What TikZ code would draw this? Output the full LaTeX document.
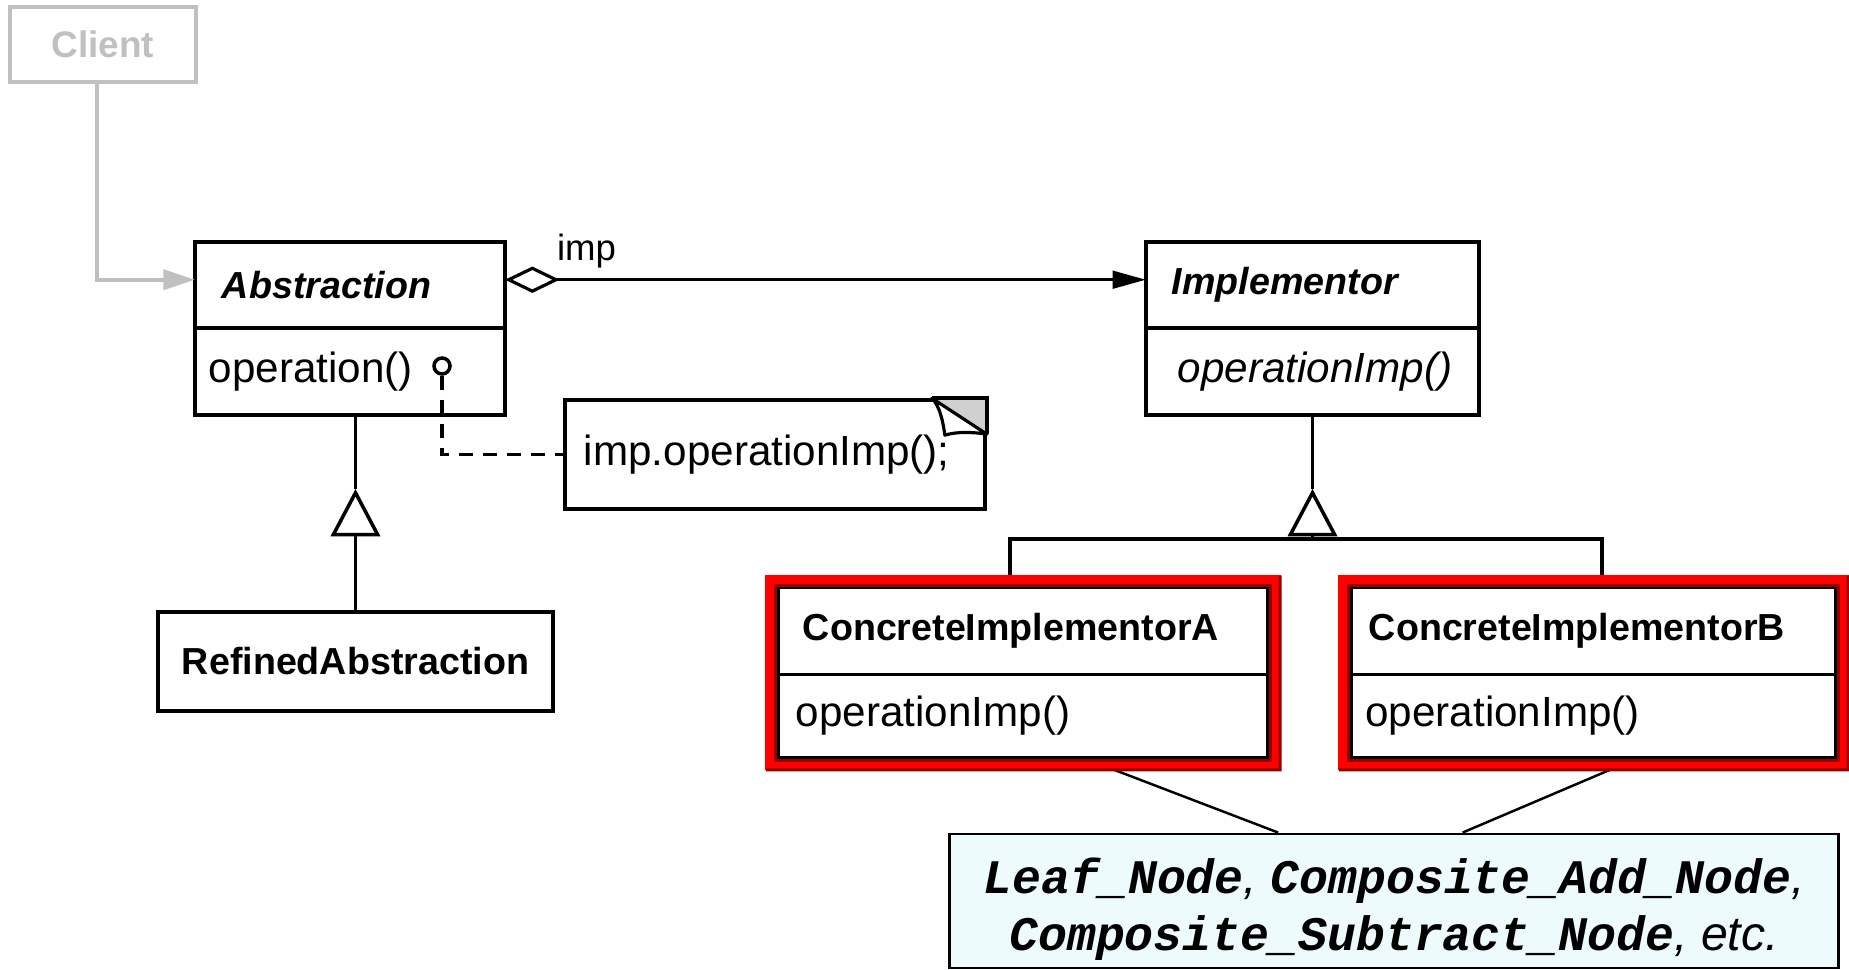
\documentclass[tikz,border=0pt]{standalone}
\usepackage{fontspec}
\setmainfont{Liberation Sans}
\newfontfamily\codefont{Liberation Mono}
\usepackage{tikz}
\usetikzlibrary{arrows.meta,positioning,calc}
\definecolor{clientgray}{RGB}{192,192,192}
\definecolor{notecyan}{RGB}{238,251,253}
\definecolor{framered}{RGB}{255,0,0}
\definecolor{bevelred}{RGB}{150,0,0}
\definecolor{foldgray}{RGB}{208,208,208}

\newcommand{\clsfont}{\fontsize{10.7}{13}\selectfont\bfseries}
\newcommand{\methfont}{\fontsize{12}{14}\selectfont}
\newcommand{\ident}[1]{{\codefont\bfseries\itshape #1}}
\newcommand{\punct}[1]{{\itshape #1}}

\begin{document}
\begin{tikzpicture}[x=0.01cm, y=-0.01cm,
        classhead/.style={rectangle, draw, line width=1pt, outer sep=0pt,
                          minimum height=0.86cm, align=left, font=\clsfont},
        classbody/.style={rectangle, draw, line width=1pt, outer sep=0pt,
                          minimum height=0.87cm, align=left, font=\methfont},
        clientbox/.style={rectangle, draw=clientgray, line width=1.1pt,
                          text=clientgray, minimum width=1.86cm, minimum height=0.75cm,
                          font=\fontsize{10.5}{12}\selectfont\bfseries},
        umlnote/.style={rectangle, draw, line width=1pt, fill=white,
                        minimum height=1.09cm, align=left, font=\methfont},
        leafbox/.style={rectangle, draw, line width=0.8pt, fill=notecyan,
                        minimum width=8.88cm, minimum height=1.34cm},
        leaftext/.style={align=center, inner sep=0pt,
                         font=\fontsize{13.7}{16.4}\selectfont},
        lbl/.style={font=\fontsize{10.4}{12}\selectfont},
        assoc/.style={line width=1pt},
        aggr/.style={line width=0.9pt,
                     {Diamond[open,length=15.5pt,width=7.5pt]}-{Triangle[length=9.5pt,width=5pt]}},
        inherit/.style={line width=1pt, -{Triangle[open,length=13.5pt,width=14pt]}},
        clientlink/.style={draw=clientgray, line width=1.1pt,
                           -{Triangle[length=9pt,width=5.7pt]}},
        notelink/.style={line width=1pt, dash pattern=on 4pt off 2.8pt},
        callout/.style={line width=0.7pt},
        redframe/.style={draw=framered, line width=3.1pt},
        bevel/.style={draw=bevelred, line width=0.9pt}
    ]
    \useasboundingbox (0,0) rectangle (1849,970);

    %% ── Client ──────────────────────────────────────────────────────────────
    \node[clientbox] (client) at (103,44.5) {Client};

    %% ── Abstraction side ────────────────────────────────────────────────────
    \node[classhead, text width=2.56cm, inner xsep=0.27cm] (abs-head) at (350,285)
        {\itshape Abstraction};
    \node[classbody, text width=2.82cm, inner xsep=0.14cm, below=0pt of abs-head] (abs-body)
        {operation()};
    \node[classhead, minimum width=3.95cm, minimum height=0.99cm, align=center] (refined)
        at (355.5,661.5) {RefinedAbstraction};

    %% ── Implementor side ────────────────────────────────────────────────────
    \node[classhead, text width=2.81cm, inner xsep=0.26cm] (impl-head) at (1312.5,285)
        {\itshape Implementor};
    \node[classbody, text width=2.69cm, inner xsep=0.32cm, below=0pt of impl-head] (impl-body)
        {\itshape operationImp()};

    \node[classhead, text width=4.40cm, inner xsep=0.25cm, minimum height=0.865cm] (ca-head)
        at (1023,631) {ConcreteImplementorA};
    \node[classbody, text width=4.54cm, inner xsep=0.18cm, minimum height=0.835cm,
          below=0pt of ca-head] (ca-body) {operationImp()};
    \node[classhead, text width=4.49cm, inner xsep=0.18cm, minimum height=0.865cm] (cb-head)
        at (1593.5,631) {ConcreteImplementorB};
    \node[classbody, text width=4.56cm, inner xsep=0.145cm, minimum height=0.835cm,
          below=0pt of cb-head] (cb-body) {operationImp()};

    %% ── Notes ───────────────────────────────────────────────────────────────
    \node[umlnote, text width=3.82cm, inner xsep=0.19cm] (implnote) at (775,454.5)
        {imp.operationImp();};
    \node[circle, draw, line width=1pt, minimum size=0.16cm, inner sep=0pt, fill=white]
        (opdot) at (442,366) {};

    \node[leafbox] (leaf) at (1394,901) {};
    \node[leaftext] (leaftxt) at ([yshift=-2.3pt]leaf.center)
        {\ident{Leaf\_Node}\punct{,} \ident{Composite\_Add\_Node}\punct{,}\\
         \ident{Composite\_Subtract\_Node}\punct{, etc.}};

    %% folded corner of the note
    \coordinate (foldA) at ($(implnote.north east)+(-55,0)$);
    \coordinate (foldB) at ($(implnote.north east)+(0,36)$);
    \coordinate (curlC) at ($(implnote.north east)+(-42,37)$);
    \fill[foldgray] (foldA) -- (implnote.north east) -- (foldB) -- cycle;
    \draw[line width=1pt] (foldA) -- (implnote.north east) -- (foldB);
    \draw[line width=0.9pt, fill=white, line join=round]
        (foldA) .. controls +(8,8) and +(-2,-14) .. (curlC)
                .. controls +(12,-4) and +(-12,-2) .. (foldB) -- cycle;

    %% ── Connectors ──────────────────────────────────────────────────────────
    \draw[clientlink] ([xshift=-1.7pt]client.south) |- ([yshift=1.5pt]abs-head.west);

    \draw[aggr] ([yshift=1.5pt]abs-head.east) --
        node[lbl, pos=0.127, above=-0.5pt] (implbl) {imp}
        ([yshift=1.5pt]impl-head.west);

    \draw[notelink] (opdot.south) |- (implnote.west);

    %% generalisation: Abstraction <- RefinedAbstraction
    \coordinate (absfoot) at (refined.north |- abs-body.south);
    \coordinate (genA) at ([yshift=-21pt]absfoot);
    \draw[assoc] (absfoot) -- (genA);
    \draw[inherit] (refined.north) -- (genA);

    %% generalisation: Implementor <- ConcreteImplementorA/B
    \coordinate (genI) at ([yshift=-21pt]impl-body.south);
    \coordinate (barI) at ([yshift=-14.2pt]genI);
    \draw[assoc] (impl-body.south) -- (genI);
    \draw[inherit] (barI) -- (genI);
    \draw[assoc] ([xshift=-3.7pt]ca-head.north) |- (barI) -| ([xshift=2.4pt]cb-head.north);

    %% callouts to the leaf/composite note
    \draw[callout] ($(ca-body.south west)!0.622!(ca-body.south east)$) --
                   ($(leaf.north west)!0.37!(leaf.north east)$);
    \draw[callout] ($(cb-body.south west)!0.592!(cb-body.south east)$) --
                   ($(leaf.north west)!0.577!(leaf.north east)$);

    %% ── Red highlight frames ────────────────────────────────────────────────
    \foreach \c in {ca,cb} {
        \draw[redframe] ([shift={(-7,-7)}]\c-head.north west) rectangle
                        ([shift={(7,7)}]\c-body.south east);
        \draw[bevel] ([shift={(-2.5,-2.5)}]\c-head.north west) rectangle
                     ([shift={(2.5,2.5)}]\c-body.south east);
        \draw[bevel] ([shift={(12,-12)}]\c-head.north east) --
                     ([shift={(12,12)}]\c-body.south east) --
                     ([shift={(-12,12)}]\c-body.south west);
    }

\end{tikzpicture}
\end{document}
